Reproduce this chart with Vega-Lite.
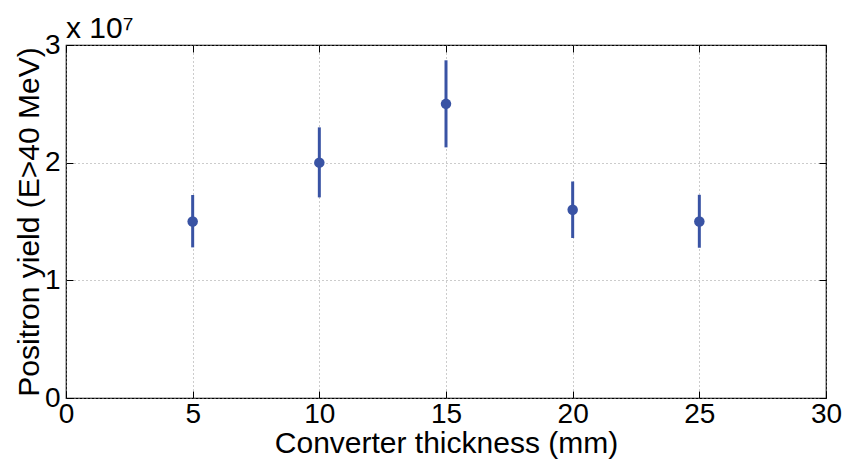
{
  "$schema": "https://vega.github.io/schema/vega-lite/v6.json",
  "width": 760,
  "height": 353,
  "autosize": {"type": "none"},
  "padding": {"left": 66, "top": 45, "right": 18, "bottom": 65},
  "background": "white",
  "config": {
    "font": "Liberation Sans",
    "view": {"stroke": "black", "strokeWidth": 1.2},
    "axis": {
      "labelFont": "Liberation Sans",
      "titleFont": "Liberation Sans",
      "labelFontSize": 28,
      "titleFontSize": 30,
      "titleFontWeight": "normal",
      "labelColor": "black",
      "titleColor": "black",
      "domain": false,
      "tickColor": "black",
      "tickSize": -7,
      "tickWidth": 1,
      "grid": true,
      "gridColor": "#999999",
      "gridDash": [1, 3],
      "gridWidth": 1
    }
  },
  "title": {
    "text": "x 10⁷",
    "anchor": "start",
    "frame": "group",
    "fontSize": 30,
    "fontWeight": "normal",
    "font": "Liberation Sans",
    "color": "black",
    "offset": -13,
    "dx": 0
  },
  "data": {
    "values": [
      {"t": 5, "y": 1.5, "lo": 1.28, "hi": 1.725},
      {"t": 10, "y": 2.0, "lo": 1.705, "hi": 2.30},
      {"t": 15, "y": 2.5, "lo": 2.13, "hi": 2.87},
      {"t": 20, "y": 1.6, "lo": 1.36, "hi": 1.84},
      {"t": 25, "y": 1.5, "lo": 1.277, "hi": 1.727}
    ]
  },
  "layer": [
    {
      "mark": {"type": "rule", "color": "#3953a4", "strokeWidth": 3},
      "encoding": {
        "x": {"field": "t", "type": "quantitative", "scale": {"domain": [0, 30], "nice": false},
              "axis": {"title": "Converter thickness (mm)", "values": [0,5,10,15,20,25,30], "labelPadding": 9, "titlePadding": 0, "labelFlush": false}},
        "y": {"field": "lo", "type": "quantitative", "scale": {"domain": [0, 3], "nice": false},
              "axis": {"title": "Positron yield (E>40 MeV)", "values": [0,1,2,3], "labelPadding": 13, "titlePadding": 0, "labelFlush": false}},
        "y2": {"field": "hi"}
      }
    },
    {
      "mark": {"type": "point", "filled": true, "color": "#3953a4", "opacity": 1, "size": 110},
      "encoding": {
        "x": {"field": "t", "type": "quantitative",
              "axis": {"orient": "top", "title": null, "labels": false, "grid": false, "values": [0,5,10,15,20,25,30]}},
        "y": {"field": "y", "type": "quantitative",
              "axis": {"orient": "right", "title": null, "labels": false, "grid": false, "values": [0,1,2,3]}}
      }
    }
  ],
  "resolve": {"axis": {"x": "independent", "y": "independent"}}
}
